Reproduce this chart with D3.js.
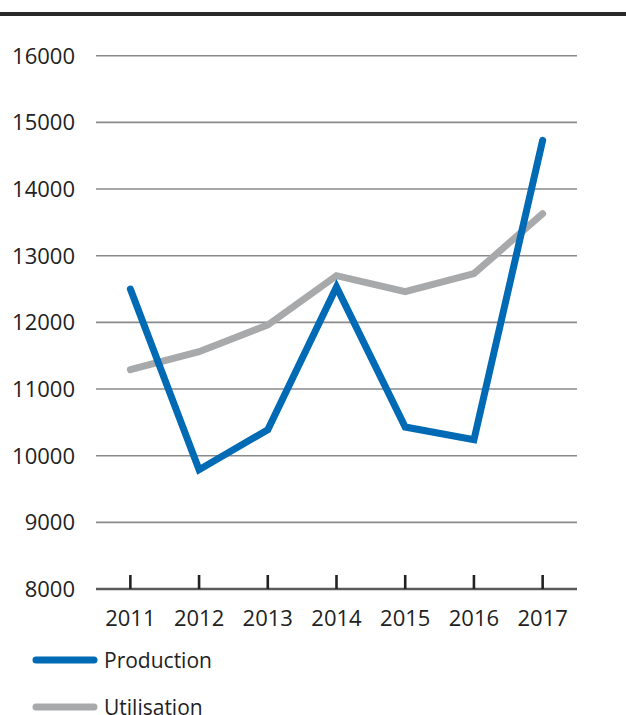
<!DOCTYPE html>
<html>
<head>
<meta charset="utf-8">
<script src="https://cdn.jsdelivr.net/npm/d3@7"></script>
<style>
  body { margin: 0; background: #fff; }
  text { font-family: "Open Sans", sans-serif; fill: #222; }
</style>
</head>
<body>
<div id="chart"></div>
<script>
const years = ['2011', '2012', '2013', '2014', '2015', '2016', '2017'];
const production = [12500, 9790, 10390, 12530, 10430, 10240, 14730];
const utilisation = [11290, 11560, 11960, 12700, 12460, 12730, 13630];
const yTicks = [8000, 9000, 10000, 11000, 12000, 13000, 14000, 15000, 16000];
const seriesNames = ['Production', 'Utilisation'];

const BLUE = '#006ab4';
const GREY = '#a8a9ab';

const width = 626;
const height = 715;

const svg = d3.select('#chart')
  .append('svg')
  .attr('width', width)
  .attr('height', height);

// top rule
svg.append('rect')
  .attr('x', 0).attr('y', 12)
  .attr('width', width).attr('height', 4)
  .attr('fill', '#2a2a2a');

const x = d3.scaleBand().domain(years).range([96, 577]);
const y = d3.scaleLinear().domain([8000, 16000]).range([589, 55.7]);

// gridlines
svg.append('g')
  .selectAll('line')
  .data(yTicks.filter(d => d > 8000))
  .enter()
  .append('line')
  .attr('x1', 96).attr('x2', 577)
  .attr('y1', d => y(d)).attr('y2', d => y(d))
  .attr('stroke', '#8a8a8c')
  .attr('stroke-width', 1.6);

// y labels
svg.append('g')
  .selectAll('text')
  .data(yTicks)
  .enter()
  .append('text')
  .attr('x', 75)
  .attr('y', d => y(d) + 8)
  .attr('text-anchor', 'end')
  .style('font-size', '22px')
  .text(d => d);

// baseline
svg.append('line')
  .attr('x1', 96).attr('x2', 577)
  .attr('y1', y(8000)).attr('y2', y(8000))
  .attr('stroke', '#5a5a5c')
  .attr('stroke-width', 2.6);

// x ticks
svg.append('g')
  .selectAll('line')
  .data(years)
  .enter()
  .append('line')
  .attr('x1', d => x(d) + x.bandwidth() / 2)
  .attr('x2', d => x(d) + x.bandwidth() / 2)
  .attr('y1', y(8000) - 14).attr('y2', y(8000))
  .attr('stroke', '#222')
  .attr('stroke-width', 2.6);

// x labels
svg.append('g')
  .selectAll('text')
  .data(years)
  .enter()
  .append('text')
  .attr('x', d => x(d) + x.bandwidth() / 2)
  .attr('y', 626)
  .attr('text-anchor', 'middle')
  .style('font-size', '22px')
  .text(d => d);

const line = d3.line()
  .x((d, i) => x(years[i]) + x.bandwidth() / 2)
  .y(d => y(d));

[[utilisation, GREY], [production, BLUE]].forEach(([values, color]) => {
  svg.append('path')
    .datum(values)
    .attr('d', line)
    .attr('fill', 'none')
    .attr('stroke', color)
    .attr('stroke-width', 7)
    .attr('stroke-linecap', 'round')
    .attr('stroke-linejoin', 'miter');
});

// legend
const legend = svg.append('g')
  .selectAll('g')
  .data(seriesNames)
  .enter()
  .append('g')
  .attr('transform', (d, i) => `translate(0, ${660 + i * 47})`);

legend.append('line')
  .attr('x1', 36).attr('x2', 94)
  .attr('y1', 0).attr('y2', 0)
  .attr('stroke', (d, i) => i === 0 ? BLUE : GREY)
  .attr('stroke-width', 7)
  .attr('stroke-linecap', 'round');

legend.append('text')
  .attr('x', 104)
  .attr('y', 8)
  .style('font-size', '21px')
  .text(d => d);
</script>
</body>
</html>
